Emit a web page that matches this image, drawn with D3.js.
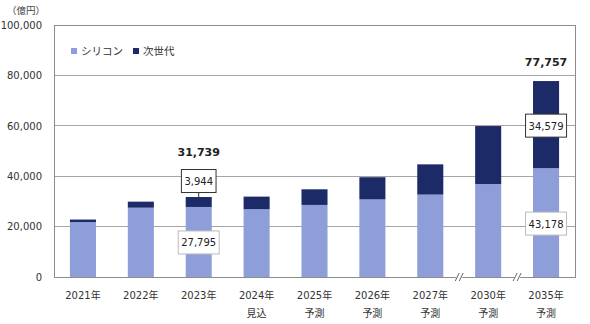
<!DOCTYPE html>
<html><head><meta charset="utf-8">
<script src="https://cdn.jsdelivr.net/npm/d3@7"></script>
<style>body{margin:0;background:#fff}svg{display:block}</style>
</head><body>
<svg id="c" width="590" height="324"></svg>
<script>
const categories = ["2021年","2022年","2023年","2024年","2025年","2026年","2027年","2030年","2035年"];
const subLabels = ["","","","見込","予測","予測","予測","予測","予測"];
const silicon = [21800, 27500, 27795, 26900, 28600, 30800, 32700, 36900, 43178];
const nextGen = [1000, 2400, 3944, 5000, 6200, 8800, 12000, 23000, 34579];
const seriesNames = ["シリコン","次世代"];
const yTicks = [0, 20000, 40000, 60000, 80000, 100000];
const totalLabels = [{i:2, text:"31,739", dy:-41},{i:8, text:"77,757", dy:-15}];
const boxLabels = [
  {i:2, series:1, text:"3,944", dark:true},
  {i:2, series:0, text:"27,795", dark:false},
  {i:8, series:1, text:"34,579", dark:true},
  {i:8, series:0, text:"43,178", dark:false}
];
const breaksAfter = [6, 7];

const colors = ["#8e9ed9", "#1d2a68"];
const numFont = "'DejaVu Sans','Noto Sans CJK JP',sans-serif";
const jpFont = "'Noto Sans CJK JP','DejaVu Sans',sans-serif";

const svg = d3.select("#c");
const L = 54, R = 575, T = 25, B = 277;
const x = d3.scaleBand().domain(categories).range([L, R]).paddingInner(0.55).paddingOuter(0.275);
const y = d3.scaleLinear().domain([0, 100000]).range([B, T]);

// gridlines
svg.append("g").selectAll("line").data(yTicks.filter(d => d > 0 && d < 100000)).join("line")
  .attr("x1", L).attr("x2", R).attr("y1", d => y(d)).attr("y2", d => y(d))
  .attr("stroke", "#a6a6a6").attr("stroke-width", 1).attr("shape-rendering","crispEdges");

// frame
svg.append("rect").attr("x", L).attr("y", T).attr("width", R - L).attr("height", B - T)
  .attr("fill", "none").attr("stroke", "#8c8c8c").attr("stroke-width", 1).attr("shape-rendering","crispEdges");

// y axis
const yAxis = d3.axisLeft(y).tickValues(yTicks).tickSize(0).tickPadding(12).tickFormat(d3.format(","));
const ga = svg.append("g").attr("transform", `translate(${L},0)`).call(yAxis);
ga.select(".domain").attr("stroke", "#8c8c8c");
ga.selectAll("text").attr("font-family", numFont).attr("font-size", 10).attr("fill", "#333");

svg.append("text").attr("x", 26).attr("y", 14).attr("text-anchor", "middle")
  .attr("font-family", jpFont).attr("font-size", 9.5).attr("fill", "#444").text("（億円）");

// stacked bars
const stackData = categories.map((c, i) => ({cat: c, s0: silicon[i], s1: nextGen[i]}));
const stack = d3.stack().keys(["s0", "s1"])(stackData);
svg.append("g").selectAll("g").data(stack).join("g")
  .attr("fill", (d, k) => colors[k])
  .selectAll("rect").data(d => d).join("rect")
  .attr("x", d => x(d.data.cat)).attr("width", x.bandwidth())
  .attr("y", d => y(d[1])).attr("height", d => y(d[0]) - y(d[1]));

// bottom axis line redraw
svg.append("line").attr("x1", L).attr("x2", R).attr("y1", B).attr("y2", B)
  .attr("stroke", "#8c8c8c").attr("shape-rendering","crispEdges");

// axis breaks
breaksAfter.forEach(i => {
  const bx = x(categories[i]) + x.bandwidth() + (x.step() - x.bandwidth()) / 2;
  svg.append("rect").attr("x", bx - 3).attr("y", B - 2).attr("width", 6).attr("height", 4).attr("fill", "#fff");
  [-2, 2].forEach(o => {
    svg.append("line").attr("x1", bx + o - 2).attr("y1", B + 4).attr("x2", bx + o + 2).attr("y2", B - 4)
      .attr("stroke", "#666").attr("stroke-width", 1);
  });
});

// x labels
const xl = svg.append("g");
categories.forEach((c, i) => {
  const cx = x(c) + x.bandwidth() / 2;
  xl.append("text").attr("x", cx).attr("y", 299).attr("text-anchor", "middle")
    .attr("font-family", numFont).attr("font-size", 10).attr("fill", "#333").text(c);
  if (subLabels[i]) xl.append("text").attr("x", cx).attr("y", 317).attr("text-anchor", "middle")
    .attr("font-family", jpFont).attr("font-size", 10).attr("fill", "#333").text(subLabels[i]);
});

// legend
const leg = [{x: 71, i: 0}, {x: 133, i: 1}];
leg.forEach(l => {
  svg.append("rect").attr("x", l.x).attr("y", 48).attr("width", 6).attr("height", 6).attr("fill", colors[l.i]);
  svg.append("text").attr("x", l.x + 10).attr("y", 55).attr("font-family", jpFont).attr("font-size", 10.5)
    .attr("fill", "#333").text(seriesNames[l.i]);
});

// totals
totalLabels.forEach(t => {
  const tot = silicon[t.i] + nextGen[t.i];
  svg.append("text").attr("x", x(categories[t.i]) + x.bandwidth() / 2).attr("y", y(tot) + t.dy)
    .attr("text-anchor", "middle").attr("font-family", numFont).attr("font-size", 11).attr("font-weight", "bold")
    .attr("fill", "#222").text(t.text);
});

// box labels
boxLabels.forEach(b => {
  const cx = x(categories[b.i]) + x.bandwidth() / 2;
  let cy;
  if (b.i === 2 && b.series === 1) cy = y(silicon[b.i] + nextGen[b.i]) - 16;
  else if (b.i === 2 && b.series === 0) cy = y(silicon[b.i]) + 35.5;
  else if (b.series === 1) cy = y(silicon[b.i] + nextGen[b.i] / 2) + 1;
  else cy = y(silicon[b.i] / 2) + 1;
  const g = svg.append("g");
  const t = g.append("text").attr("x", cx).attr("y", cy + 4).attr("text-anchor", "middle")
    .attr("font-family", numFont).attr("font-size", 10).attr("fill", "#222").text(b.text);
  const bb = t.node().getBBox();
  g.insert("rect", "text").attr("x", bb.x - 3).attr("y", cy - 11.5).attr("width", bb.width + 6).attr("height", 23)
    .attr("fill", "#fff").attr("stroke", b.dark ? "#333" : "#bbb").attr("stroke-width", 1);
  if (b.i === 2 && b.series === 1) {
    g.append("line").attr("x1", cx).attr("x2", cx).attr("y1", cy + 11.5).attr("y2", y(silicon[b.i] + nextGen[b.i]))
      .attr("stroke", "#333");
  }
});
</script>
</body></html>
